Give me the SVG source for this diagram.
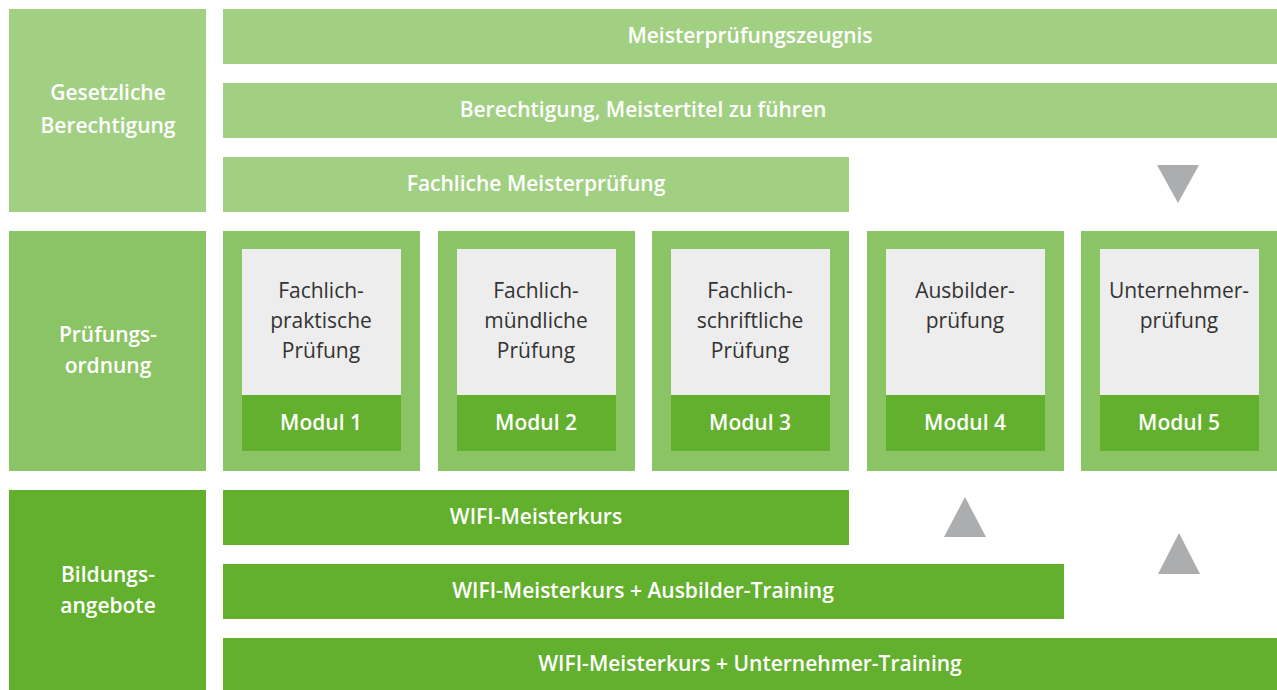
<svg xmlns="http://www.w3.org/2000/svg" width="1277" height="690" viewBox="0 0 1277 690">
<style>
.l{fill:#a2d083}
.m{fill:#8bc464}
.d{fill:#63b02e}
.g{fill:#ededed}
.tri{fill:#acadaf}
.wt{font-family:"Open Sans","Liberation Sans",sans-serif;font-weight:600;font-size:21px;fill:#fff;text-anchor:middle}
.gt{font-family:"Open Sans","Liberation Sans",sans-serif;font-size:21px;fill:#333;text-anchor:middle}
</style>
<rect width="1277" height="690" fill="#fff"/>
<g id="gesetzliche">
<rect class="l" x="9" y="9" width="197" height="203"/>
<text class="wt" x="108" y="100">Gesetzliche</text>
<text class="wt" x="108" y="133">Berechtigung</text>
</g>
<g id="zeugnis"><rect class="l" x="223" y="9" width="1054" height="55"/><text class="wt" x="750" y="43">Meisterprüfungszeugnis</text></g>
<g id="berechtigung"><rect class="l" x="223" y="83" width="1054" height="55"/><text class="wt" x="643" y="117">Berechtigung, Meistertitel zu führen</text></g>
<g id="fachliche"><rect class="l" x="223" y="157" width="626" height="55"/><text class="wt" x="536" y="191">Fachliche Meisterprüfung</text></g>
<g id="pruefungsordnung">
<rect class="m" x="9" y="231" width="197" height="240"/>
<text class="wt" x="108" y="342">Prüfungs-</text>
<text class="wt" x="108" y="373">ordnung</text>
</g>
<g id="modul1">
<rect class="m" x="223" y="231" width="197" height="240"/>
<rect class="g" x="242" y="249" width="159" height="146"/>
<rect class="d" x="242" y="395" width="159" height="56"/>
<text class="gt" x="321" y="298">Fachlich-</text><text class="gt" x="321" y="328">praktische</text><text class="gt" x="321" y="358">Prüfung</text>
<text class="wt" x="321" y="430">Modul 1</text>
</g>
<g id="modul2">
<rect class="m" x="438" y="231" width="197" height="240"/>
<rect class="g" x="457" y="249" width="159" height="146"/>
<rect class="d" x="457" y="395" width="159" height="56"/>
<text class="gt" x="536" y="298">Fachlich-</text><text class="gt" x="536" y="328">mündliche</text><text class="gt" x="536" y="358">Prüfung</text>
<text class="wt" x="536" y="430">Modul 2</text>
</g>
<g id="modul3">
<rect class="m" x="652" y="231" width="197" height="240"/>
<rect class="g" x="671" y="249" width="159" height="146"/>
<rect class="d" x="671" y="395" width="159" height="56"/>
<text class="gt" x="750" y="298">Fachlich-</text><text class="gt" x="750" y="328">schriftliche</text><text class="gt" x="750" y="358">Prüfung</text>
<text class="wt" x="750" y="430">Modul 3</text>
</g>
<g id="modul4">
<rect class="m" x="867" y="231" width="197" height="240"/>
<rect class="g" x="886" y="249" width="159" height="146"/>
<rect class="d" x="886" y="395" width="159" height="56"/>
<text class="gt" x="965" y="298">Ausbilder-</text><text class="gt" x="965" y="328">prüfung</text>
<text class="wt" x="965" y="430">Modul 4</text>
</g>
<g id="modul5">
<rect class="m" x="1081" y="231" width="197" height="240"/>
<rect class="g" x="1100" y="249" width="159" height="146"/>
<rect class="d" x="1100" y="395" width="159" height="56"/>
<text class="gt" x="1179" y="298">Unternehmer-</text><text class="gt" x="1179" y="328">prüfung</text>
<text class="wt" x="1179" y="430">Modul 5</text>
</g>
<g id="bildungsangebote">
<rect class="d" x="9" y="490" width="197" height="200"/>
<text class="wt" x="108" y="582">Bildungs-</text>
<text class="wt" x="108" y="613">angebote</text>
</g>
<g id="kurs1"><rect class="d" x="223" y="490" width="626" height="55"/><text class="wt" x="536" y="524">WIFI-Meisterkurs</text></g>
<g id="kurs2"><rect class="d" x="223" y="564" width="841" height="55"/><text class="wt" x="643" y="598">WIFI-Meisterkurs + Ausbilder-Training</text></g>
<g id="kurs3"><rect class="d" x="223" y="638" width="1054" height="52"/><text class="wt" x="750" y="671">WIFI-Meisterkurs + Unternehmer-Training</text></g>
<g id="connectors">
<polygon class="tri" points="1157,165 1199,165 1178,203"/>
<polygon class="tri" points="944,537 986,537 965,497"/>
<polygon class="tri" points="1158,574 1200,574 1179,533"/>
</g>
</svg>
